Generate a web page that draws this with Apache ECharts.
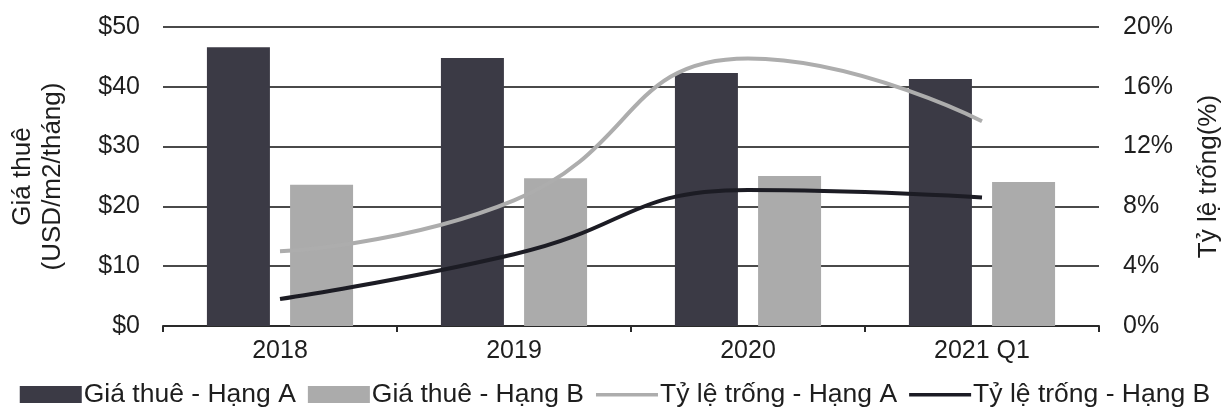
<!DOCTYPE html>
<html>
<head>
<meta charset="utf-8">
<script src="https://cdn.jsdelivr.net/npm/echarts@6/dist/echarts.min.js"></script>
<style>
  html, body { margin: 0; padding: 0; background: #fff; }
  #chart { width: 1230px; height: 419px; }
</style>
</head>
<body>
<div id="chart"></div>
<script>
var categories = ['2018', '2019', '2020', '2021 Q1']
var rentA = [46.6, 44.8, 42.3, 41.3]
var rentB = [23.6, 24.7, 25.1, 24.1]
var vacancyA = [5.0, 8.4, 17.9, 13.7]
var vacancyB = [1.8, 4.8, 9.1, 8.6]

var font = 'Liberation Sans, Arial, sans-serif'
var textColor = '#1e1e1e'
// thin bar inside a taller box, so the legend line keeps its height
var lineIcon = 'path://M0,0 M0,17 M0,7 L62,7 L62,10.5 L0,10.5 Z'

var chart = echarts.init(document.getElementById('chart'))

chart.setOption({
  animation: false,
  textStyle: { fontFamily: font, color: textColor },
  grid: { left: 163, right: 130, top: 27, bottom: 93 },
  legend: {
    bottom: 6,
    left: 'center',
    itemWidth: 62,
    itemHeight: 17,
    itemGap: 12,
    textStyle: { fontSize: 26.5, color: textColor, fontFamily: font, padding: [0, 0, 0, -3] },
    data: [
      { name: 'Giá thuê - Hạng A', icon: 'rect' },
      { name: 'Giá thuê - Hạng B', icon: 'rect' },
      { name: 'Tỷ lệ trống - Hạng A', icon: lineIcon },
      { name: 'Tỷ lệ trống - Hạng B', icon: lineIcon }
    ]
  },
  xAxis: {
    type: 'category',
    data: categories,
    axisLine: { lineStyle: { color: '#2a2a2a', width: 2 } },
    axisTick: { show: true, alignWithLabel: false, length: 6, lineStyle: { color: '#2a2a2a', width: 2 } },
    axisLabel: { fontSize: 25, color: textColor, margin: 13 }
  },
  yAxis: [
    {
      type: 'value',
      min: 0,
      max: 50,
      interval: 10,
      name: 'Giá thuê\n(USD/m2/tháng)',
      nameLocation: 'middle',
      nameGap: 95,
      nameRotate: 90,
      nameTextStyle: { fontSize: 26, color: textColor, lineHeight: 30 },
      axisLine: { show: false },
      axisTick: { show: false },
      axisLabel: { fontSize: 25, color: textColor, margin: 23, formatter: '${value}' },
      splitLine: { lineStyle: { color: '#4a4a4a', width: 2 } }
    },
    {
      type: 'value',
      min: 0,
      max: 20,
      interval: 4,
      name: 'Tỷ lệ trống(%)',
      nameLocation: 'middle',
      nameGap: 97,
      nameRotate: 90,
      nameTextStyle: { fontSize: 26, color: textColor },
      axisLine: { show: false },
      axisTick: { show: false },
      axisLabel: { fontSize: 25, color: textColor, margin: 24, formatter: '{value}%' },
      splitLine: { show: false }
    }
  ],
  series: [
    {
      name: 'Giá thuê - Hạng A',
      type: 'bar',
      data: rentA,
      barWidth: 63,
      barGap: '32%',
      itemStyle: { color: '#3b3a45' }
    },
    {
      name: 'Giá thuê - Hạng B',
      type: 'bar',
      data: rentB,
      barWidth: 63,
      itemStyle: { color: '#ababab' }
    },
    {
      name: 'Tỷ lệ trống - Hạng A',
      type: 'line',
      yAxisIndex: 1,
      data: vacancyA,
      smooth: 0.5,
      symbol: 'none',
      lineStyle: { color: '#adadad', width: 4 },
      itemStyle: { color: '#adadad' }
    },
    {
      name: 'Tỷ lệ trống - Hạng B',
      type: 'line',
      yAxisIndex: 1,
      data: vacancyB,
      smooth: 0.5,
      symbol: 'none',
      lineStyle: { color: '#1c1c24', width: 4 },
      itemStyle: { color: '#1c1c24' }
    }
  ]
})
</script>
</body>
</html>
